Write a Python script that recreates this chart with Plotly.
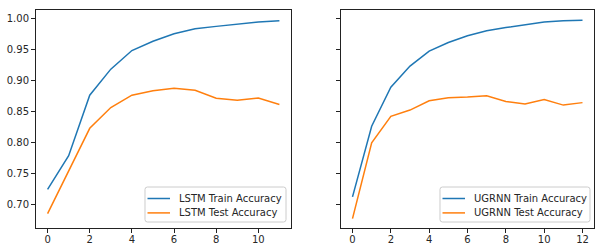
import plotly.graph_objects as go

lstm_epochs = list(range(12))
lstm_train = [0.724, 0.7785, 0.876, 0.918, 0.948, 0.963, 0.975, 0.983, 0.987, 0.991, 0.994, 0.996]
lstm_test = [0.685, 0.755, 0.8226, 0.856, 0.876, 0.883, 0.887, 0.884, 0.871, 0.868, 0.8715, 0.861]

ugrnn_epochs = list(range(13))
ugrnn_train = [0.712, 0.826, 0.889, 0.923, 0.947, 0.961, 0.972, 0.980, 0.985, 0.989, 0.994, 0.996, 0.997]
ugrnn_test = [0.677, 0.799, 0.842, 0.852, 0.867, 0.872, 0.873, 0.875, 0.866, 0.862, 0.869, 0.860, 0.864]

y_ticks = [0.70, 0.75, 0.80, 0.85, 0.90, 0.95, 1.00]
y_tick_text = ["0.70", "0.75", "0.80", "0.85", "0.90", "0.95", "1.00"]

BLUE = "#1f77b4"
ORANGE = "#ff7f0e"
FONT = "DejaVu Sans"
TXT = "#262626"

series = [
    (lstm_epochs, lstm_train, "LSTM Train Accuracy", BLUE, "x", "y"),
    (lstm_epochs, lstm_test, "LSTM Test Accuracy", ORANGE, "x", "y"),
    (ugrnn_epochs, ugrnn_train, "UGRNN Train Accuracy", BLUE, "x2", "y2"),
    (ugrnn_epochs, ugrnn_test, "UGRNN Test Accuracy", ORANGE, "x2", "y2"),
]

fig = go.Figure()
for xs, ys, name, col, xa, ya in series:
    fig.add_trace(go.Scatter(x=xs, y=ys, mode="lines", name=name, showlegend=False,
                             line=dict(color=col, width=1.5), xaxis=xa, yaxis=ya))

ML, MR, MT, MB = 36, 11, 10, 24
W, H = 605, 252
pw = W - ML - MR
ph = H - MT - MB

def px_x(p):
    return (p - ML) / pw

def px_y(p):
    return (H - MB - p) / ph

axis_common = dict(showgrid=False, zeroline=False, showline=True, mirror=True, linecolor="#222222",
                   linewidth=1, ticks="outside", ticklen=4, tickcolor="#222222", tickwidth=1,
                   tickfont=dict(family=FONT, size=10, color=TXT), automargin=False)

yr = [0.6618, 1.0134]

shapes = []
annotations = []

def rounded_rect(x0, y0, x1, y1, r=2.5):
    def P(x, y):
        return f"{px_x(x):.5f},{px_y(y):.5f}"
    path = (f"M {P(x0 + r, y0)} L {P(x1 - r, y0)} Q {P(x1, y0)} {P(x1, y0 + r)} "
            f"L {P(x1, y1 - r)} Q {P(x1, y1)} {P(x1 - r, y1)} "
            f"L {P(x0 + r, y1)} Q {P(x0, y1)} {P(x0, y1 - r)} "
            f"L {P(x0, y0 + r)} Q {P(x0, y0)} {P(x0 + r, y0)} Z")
    return dict(type="path", path=path, xref="paper", yref="paper",
                fillcolor="rgba(255,255,255,0.8)", line=dict(color="#cccccc", width=1), layer="above")

def legend(box, entries):
    x0, y0, x1, y1 = box
    shapes.append(rounded_rect(x0, y0, x1, y1))
    for i, (name, col) in enumerate(entries):
        yc = y0 + 11.5 + i * 14.4
        shapes.append(dict(type="line", xref="paper", yref="paper", layer="above",
                           x0=px_x(x0 + 2.5), x1=px_x(x0 + 25), y0=px_y(yc), y1=px_y(yc),
                           line=dict(color=col, width=1.5)))
        annotations.append(dict(x=px_x(x0 + 31.5), y=px_y(yc), xref="paper", yref="paper",
                                xanchor="left", yanchor="middle", showarrow=False, text=name,
                                font=dict(family=FONT, size=10, color=TXT)))

legend((145, 187, 286, 222), [(s[2], s[3]) for s in series[:2]])
legend((440, 187, 590, 222), [(s[2], s[3]) for s in series[2:]])

fig.update_layout(
    width=W, height=H,
    margin=dict(l=ML, r=MR, t=MT, b=MB),
    paper_bgcolor="white", plot_bgcolor="white",
    font=dict(family=FONT, size=10, color=TXT),
    showlegend=False,
    xaxis=dict(domain=[px_x(36), px_x(291)], range=[-0.55, 11.55], tickvals=[0, 2, 4, 6, 8, 10],
               anchor="y", ticklabelstandoff=-2, **axis_common),
    yaxis=dict(domain=[0, 1], range=yr, tickvals=y_ticks, ticktext=y_tick_text, anchor="x", **axis_common),
    xaxis2=dict(domain=[px_x(341), 1], range=[-0.6, 12.6], tickvals=[0, 2, 4, 6, 8, 10, 12],
                anchor="y2", ticklabelstandoff=-2, **axis_common),
    yaxis2=dict(domain=[0, 1], range=yr, tickvals=y_ticks, showticklabels=False, anchor="x2", **axis_common),
    shapes=shapes,
    annotations=annotations,
)

fig.write_html("out.html")
